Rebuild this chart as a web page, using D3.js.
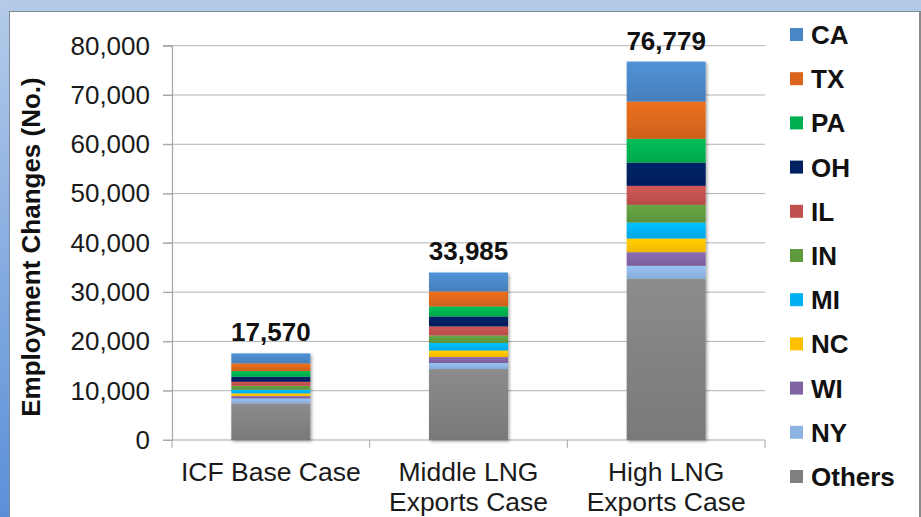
<!DOCTYPE html>
<html>
<head>
<meta charset="utf-8">
<script src="https://cdn.jsdelivr.net/npm/d3@7/dist/d3.min.js"></script>
<style>
  html, body { margin: 0; padding: 0; background: #fff; }
  svg { display: block; font-family: "Liberation Sans", Arial, sans-serif; }
</style>
</head>
<body>
<svg id="chart" width="921" height="517"></svg>
<script>
// ---- data ----
const categories = [["ICF Base Case"], ["Middle LNG", "Exports Case"], ["High LNG", "Exports Case"]];
const categoryKeys = ["ICF Base Case", "Middle LNG Exports Case", "High LNG Exports Case"];
const seriesNames = ["Others", "NY", "WI", "NC", "MI", "IN", "IL", "OH", "PA", "TX", "CA"];
const Others = [7430, 14390, 32700];
const NY = [1010, 1220, 2640];
const WI = [470, 1220, 2760];
const NC = [550, 1340, 2780];
const MI = [730, 1500, 3245];
const IN = [810, 1540, 3590];
const IL = [810, 1830, 3850];
const OH = [1010, 2030, 4730];
const PA = [1160, 2030, 4810];
const TX = [1560, 3040, 7570];
const CA = [2030, 3845, 8104];
const totals = [17570, 33985, 76779];
const yTicks = [0, 10000, 20000, 30000, 40000, 50000, 60000, 70000, 80000];
const legendOrder = ["CA", "TX", "PA", "OH", "IL", "IN", "MI", "NC", "WI", "NY", "Others"];

const seriesValues = { Others, NY, WI, NC, MI, IN, IL, OH, PA, TX, CA };
const colors = {
  CA: "#4a86c5", TX: "#d9661c", PA: "#00b050", OH: "#002060", IL: "#c0504d",
  IN: "#5f9a3e", MI: "#00b0f0", NC: "#ffc000", WI: "#8064a2", NY: "#8db3e2", Others: "#808080"
};

const svg = d3.select("#chart");
const defs = svg.append("defs");

// background frame
const lg = defs.append("linearGradient").attr("id", "leftStrip").attr("x1", 0).attr("y1", 0).attr("x2", 0).attr("y2", 1);
lg.append("stop").attr("offset", 0).attr("stop-color", "#b4cbe9");
lg.append("stop").attr("offset", 1).attr("stop-color", "#5a8fd8");
svg.append("rect").attr("x", 0).attr("y", 0).attr("width", 921).attr("height", 517).attr("fill", "#b3cbe9");
svg.append("rect").attr("x", 0).attr("y", 0).attr("width", 10).attr("height", 517).attr("fill", "url(#leftStrip)");
svg.append("rect").attr("x", 9).attr("y", 11).attr("width", 912).attr("height", 510).attr("fill", "#7f8a96");
svg.append("rect").attr("x", 10).attr("y", 12).attr("width", 909).attr("height", 510).attr("fill", "#ffffff");
svg.append("rect").attr("x", 919).attr("y", 12).attr("width", 2).attr("height", 505).attr("fill", "#8a8a8a");

// bar gradients (subtle Excel-like shading)
Object.entries(colors).forEach(([k, c]) => {
  const g = defs.append("linearGradient").attr("id", "g_" + k).attr("x1", 0).attr("y1", 0).attr("x2", 0).attr("y2", 1);
  g.append("stop").attr("offset", 0).attr("stop-color", d3.color(c).brighter(0.25));
  g.append("stop").attr("offset", 1).attr("stop-color", d3.color(c).darker(0.15));
});
const shadow = defs.append("filter").attr("id", "shadow").attr("x", "-10%").attr("y", "-10%").attr("width", "130%").attr("height", "130%");
shadow.append("feDropShadow").attr("dx", 1.5).attr("dy", 1.5).attr("stdDeviation", 1.5).attr("flood-color", "#000").attr("flood-opacity", 0.35);

// scales
const x = d3.scaleBand().domain(categoryKeys).range([172, 765]).paddingInner(0.4).paddingOuter(0.2);
const y = d3.scaleLinear().domain([0, 80000]).range([440, 45.7]);

// gridlines
svg.append("g").selectAll("line").data(yTicks.filter(d => d > 0)).join("line")
  .attr("x1", 163).attr("x2", 765)
  .attr("y1", d => y(d)).attr("y2", d => y(d))
  .attr("stroke", "#b3b3b3").attr("stroke-width", 1);

// y axis
const yAxis = svg.append("g").attr("transform", "translate(172,0)")
  .call(d3.axisLeft(y).tickValues(yTicks).tickSize(9).tickPadding(13).tickFormat(d3.format(",")));
yAxis.select(".domain").attr("stroke", "#a6a6a6").attr("stroke-width", 1.2);
yAxis.selectAll(".tick line").attr("stroke", "#a6a6a6");
yAxis.selectAll("text").attr("font-size", 26).attr("fill", "#1a1a1a").attr("font-family", "Liberation Sans, Arial, sans-serif");

// x axis
const xBounds = [172, 369.7, 567.3, 765];
svg.append("line").attr("x1", 163).attr("x2", 765).attr("y1", 440).attr("y2", 440).attr("stroke", "#a6a6a6").attr("stroke-width", 1.2);
svg.append("g").selectAll("line").data(xBounds).join("line")
  .attr("x1", d => d).attr("x2", d => d).attr("y1", 440).attr("y2", 448)
  .attr("stroke", "#a6a6a6");

// stacks
const rows = categoryKeys.map((c, i) => {
  const r = { cat: c };
  seriesNames.forEach(s => r[s] = seriesValues[s][i]);
  return r;
});
const stacked = d3.stack().keys(seriesNames)(rows);
const barW = 79;
const barG = svg.append("g").attr("filter", "url(#shadow)");
stacked.forEach(layer => {
  barG.append("g").selectAll("rect").data(layer).join("rect")
    .attr("x", d => x(d.data.cat) + x.bandwidth() / 2 - barW / 2)
    .attr("width", barW)
    .attr("y", d => y(d[1]))
    .attr("height", d => y(d[0]) - y(d[1]))
    .attr("fill", "url(#g_" + layer.key + ")");
});

// total labels
svg.append("g").selectAll("text").data(categoryKeys).join("text")
  .attr("x", d => x(d) + x.bandwidth() / 2)
  .attr("y", (d, i) => y(d3.sum(seriesNames, s => seriesValues[s][i])) - 12)
  .attr("text-anchor", "middle").attr("font-size", 26).attr("font-weight", "bold").attr("fill", "#111")
  .text((d, i) => d3.format(",")(totals[i]));

// category labels
const cl = svg.append("g").selectAll("text").data(categoryKeys).join("text")
  .attr("x", d => x(d) + x.bandwidth() / 2)
  .attr("y", 481)
  .attr("text-anchor", "middle").attr("font-size", 26.5).attr("fill", "#1a1a1a");
cl.each(function(d, i) {
  const t = d3.select(this);
  categories[i].forEach((line, j) => {
    t.append("tspan").attr("x", x(d) + x.bandwidth() / 2).attr("dy", j === 0 ? 0 : 30).text(line);
  });
});

// y axis title
svg.append("text")
  .attr("transform", "translate(40,247) rotate(-90)")
  .attr("text-anchor", "middle").attr("font-size", 26).attr("font-weight", "bold").attr("fill", "#111")
  .text("Employment Changes (No.)");

// legend
const leg = svg.append("g").selectAll("g").data(legendOrder).join("g")
  .attr("transform", (d, i) => `translate(790,${35 + i * 44.2})`);
leg.append("rect").attr("x", 0).attr("y", -7).attr("width", 13).attr("height", 13)
  .attr("fill", d => colors[d]);
leg.append("text").attr("x", 21).attr("y", 9).attr("font-size", 26).attr("font-weight", "bold").attr("fill", "#111")
  .text(d => d);
</script>
</body>
</html>
